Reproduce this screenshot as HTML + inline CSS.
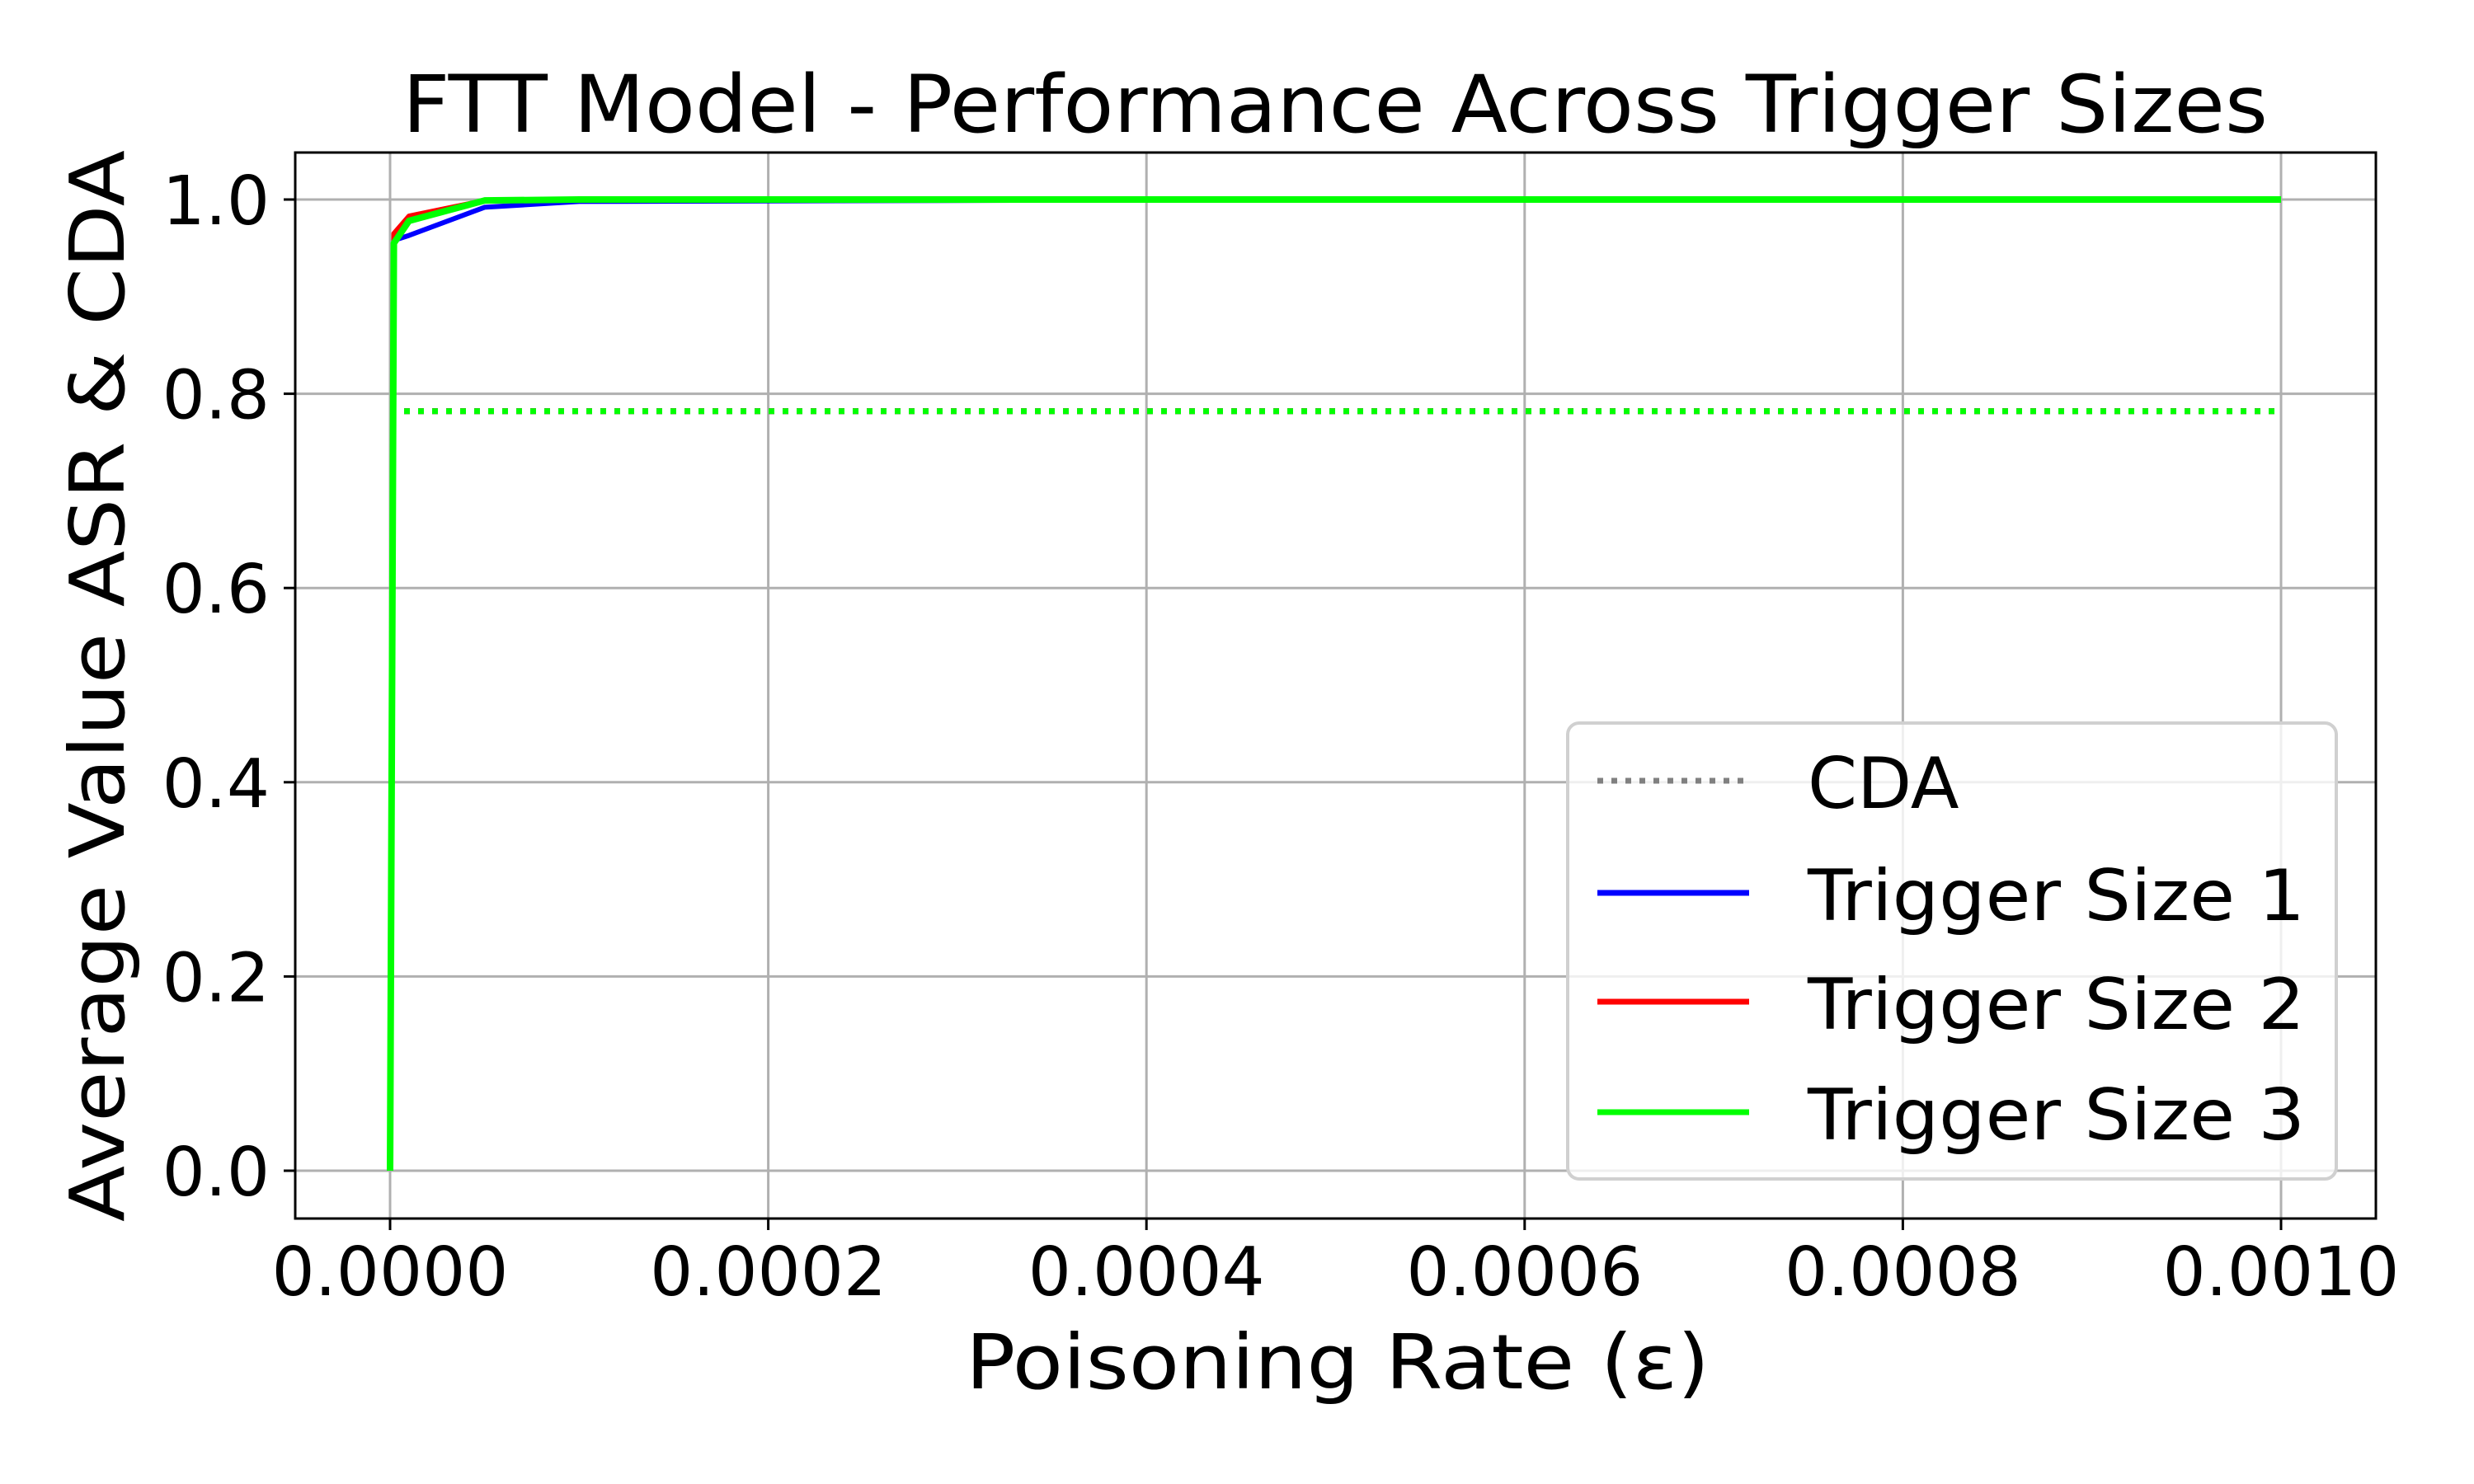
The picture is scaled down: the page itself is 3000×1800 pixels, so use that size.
<!DOCTYPE html>
<html><head><meta charset="utf-8"><style>
html,body{margin:0;padding:0;background:#fff;}
svg{display:block;font-family:"DejaVu Sans","Liberation Sans",sans-serif;}
</style></head><body>
<svg id="chart" width="3000" height="1800" viewBox="0 0 3000 1800" xmlns="http://www.w3.org/2000/svg">
<rect width="3000" height="1800" fill="#fff"/>
<g id="grid"></g>
<g id="marks"></g>
<rect x="358" y="185" width="2523" height="1293" fill="none" stroke="#000" stroke-width="3"/>
<g id="ticks"></g>
<text x="1619" y="160" font-size="96" text-anchor="middle" textLength="2262" lengthAdjust="spacingAndGlyphs">FTT Model - Performance Across Trigger Sizes</text>
<text x="1622" y="1684" font-size="92" text-anchor="middle" textLength="902" lengthAdjust="spacingAndGlyphs">Poisoning Rate (ε)</text>
<text transform="translate(150,832) rotate(-90)" font-size="92" text-anchor="middle" textLength="1300" lengthAdjust="spacingAndGlyphs">Average Value ASR &amp; CDA</text>
<g>
<rect x="1901" y="877" width="932" height="553" rx="14" fill="#fff" fill-opacity="0.8" stroke="#d0d0d0" stroke-width="4"/>
<line x1="1937" y1="947" x2="2121" y2="947" stroke="#808080" stroke-width="7" stroke-dasharray="7 10"/>
<text x="2192" y="980" font-size="86">CDA</text>
<line x1="1937" y1="1083" x2="2121" y2="1083" stroke="#0000ff" stroke-width="7"/>
<text x="2192" y="1116" font-size="86" textLength="603" lengthAdjust="spacingAndGlyphs">Trigger Size 1</text>
<line x1="1937" y1="1215" x2="2121" y2="1215" stroke="#ff0000" stroke-width="7"/>
<text x="2192" y="1248" font-size="86" textLength="603" lengthAdjust="spacingAndGlyphs">Trigger Size 2</text>
<line x1="1937" y1="1349" x2="2121" y2="1349" stroke="#00ff00" stroke-width="7"/>
<text x="2192" y="1382" font-size="86" textLength="603" lengthAdjust="spacingAndGlyphs">Trigger Size 3</text>
</g>
</svg>
<script>
const xValues = [0, 0.000002, 0.00001, 0.00005, 0.0001, 0.0005, 0.001];
const ts1Values = [0.09, 0.958, 0.963, 0.992, 0.998, 1.0, 1.0];
const ts2Values = [0.09, 0.965, 0.983, 0.999, 1.0, 1.0, 1.0];
const ts3Values = [0.0, 0.955, 0.978, 0.999, 1.0, 1.0, 1.0];
const cdaValues = [0.782, 0.782, 0.782];
const xTicks = [0, 0.0002, 0.0004, 0.0006, 0.0008, 0.001];
const xTickLabels = ["0.0000","0.0002","0.0004","0.0006","0.0008","0.0010"];
const yTicks = [0, 0.2, 0.4, 0.6, 0.8, 1.0];
const yTickLabels = ["0.0","0.2","0.4","0.6","0.8","1.0"];

const NS = "http://www.w3.org/2000/svg";
function xs(v){ return 473 + v / 0.001 * 2293; }
function ys(v){ return 1420 - v * 1178; }
function mk(tag, attrs, parent){ const e = document.createElementNS(NS, tag); for (const k in attrs) e.setAttribute(k, attrs[k]); parent.appendChild(e); return e; }
const grid = document.getElementById('grid'), ticks = document.getElementById('ticks'), marks = document.getElementById('marks');
xTicks.forEach((t,i)=>{
  const g = mk('line',{x1:xs(t),x2:xs(t),y1:185,y2:1478,stroke:'#b0b0b0','stroke-width':3},grid);
  
  
  const tk = mk('line',{x1:xs(t),x2:xs(t),y1:1478,y2:1492,stroke:'#000','stroke-width':3},ticks);
  
  
  const tx = mk('text',{x:xs(t),y:1571,'font-size':82,'text-anchor':'middle'},ticks);
  tx.textContent = xTickLabels[i];
  
  
});
yTicks.forEach((t,i)=>{
  const g = mk('line',{x1:358,x2:2881,y1:ys(t),y2:ys(t),stroke:'#b0b0b0','stroke-width':3},grid);
  
  
  const tk = mk('line',{x1:344,x2:358,y1:ys(t),y2:ys(t),stroke:'#000','stroke-width':3},ticks);
  
  
  const tx = mk('text',{x:327,y:ys(t)+30,'font-size':82,'text-anchor':'end'},ticks);
  tx.textContent = yTickLabels[i];
  
  
});
const cdaX = [0, 0.0005, 0.001];
[['#0000ff','cda-line-ts1'],['#ff0000','cda-line-ts2'],['#00ff00','cda-line-ts3']].forEach(([c,n])=>{
  const p = mk('polyline',{points:cdaX.map((x,i)=>xs(x)+','+ys(cdaValues[i])).join(' '),fill:'none',stroke:c,'stroke-width':7,'stroke-dasharray':'7 10'},marks);
  
  
});
[[ts1Values,'#0000ff',6,'line-trigger-size-1'],[ts2Values,'#ff0000',6,'line-trigger-size-2'],[ts3Values,'#00ff00',8,'line-trigger-size-3']].forEach(([vals,c,w,n])=>{
  const p = mk('polyline',{points:xValues.map((x,i)=>xs(x)+','+ys(vals[i])).join(' '),fill:'none',stroke:c,'stroke-width':w,'stroke-linejoin':'round'},marks);
  
  
});
</script>
</body></html>
